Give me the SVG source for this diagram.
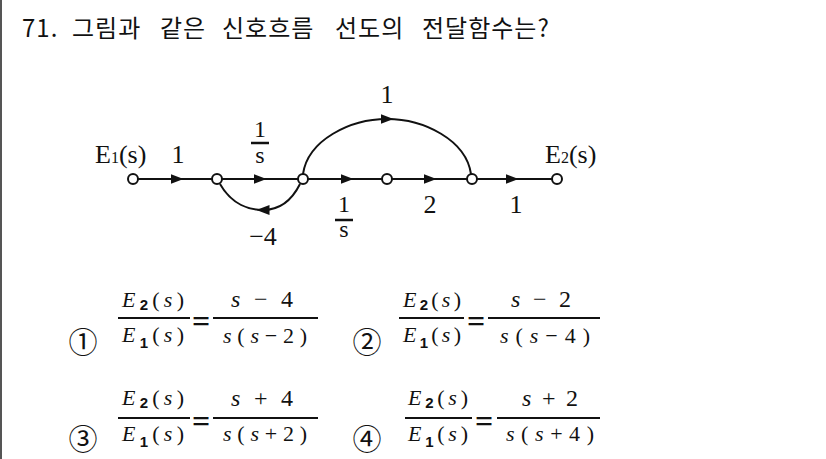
<svg xmlns="http://www.w3.org/2000/svg" width="826" height="459" viewBox="0 0 826 459">
<style>
.title{font-family:"Noto Sans CJK KR","Noto Sans",sans-serif;font-size:24px;fill:#111;letter-spacing:1px}
.lbl{font-family:"Liberation Serif","Times New Roman",serif;font-size:26px;fill:#111}
.frac{font-family:"Liberation Serif","Times New Roman",serif;font-size:24px;fill:#111}
.node{fill:#fff;stroke:#111;stroke-width:2}
.edge{fill:none;stroke:#111;stroke-width:2}
.bar{stroke:#111;stroke-width:2}
.bar2{stroke:#111;stroke-width:2.5}
.m{font-family:"Liberation Serif","Times New Roman",serif;font-size:22px;fill:#111}
.r{font-family:"Liberation Serif","Times New Roman",serif;font-size:24px;fill:#111}
.mi{font-style:italic}
.sub{font-family:"Liberation Sans",Arial,sans-serif;font-weight:bold;font-size:15px}
.circ{font-family:"Noto Sans CJK KR","DejaVu Sans",sans-serif;font-size:29px;fill:#111}
.eq{font-family:"Liberation Serif","Times New Roman",serif;font-size:32px;font-weight:bold;fill:#111}
</style>
<defs>
<marker id="arr" viewBox="0 0 13 10" refX="6.5" refY="5" markerWidth="13" markerHeight="10" markerUnits="userSpaceOnUse" orient="auto">
<path d="M0,0 L13,5 L0,10 z" fill="#111"/>
</marker>
</defs>
<rect x="0" y="0" width="826" height="459" fill="#fff"/>
<line x1="1" y1="0" x2="1" y2="459" stroke="#555" stroke-width="2"/>

<text class="title" y="37"><tspan x="22">71.</tspan><tspan x="72">그림과</tspan><tspan x="160">같은</tspan><tspan x="222">신호흐름</tspan><tspan x="335">선도의</tspan><tspan x="422">전달함수는?</tspan></text>

<g id="connectors">
<path class="edge" d="M133,179 L177,179 L217,179" marker-mid="url(#arr)"/>
<path class="edge" d="M217,179 L260,179 L303,179" marker-mid="url(#arr)"/>
<path class="edge" d="M303,179 L347,179 L387,179" marker-mid="url(#arr)"/>
<path class="edge" d="M387,179 L430,179 L472,179" marker-mid="url(#arr)"/>
<path class="edge" d="M472,179 L512,179 L557,179" marker-mid="url(#arr)"/>
<path class="edge" d="M303,174 C308,140 350,119 387,119 C424,119 466,140 471,174" marker-mid="url(#arr)"/>
<path class="edge" d="M300,184 C292,200 280,210 263,210 C250,210 232,205 220,184" marker-mid="url(#arr)"/>
<text class="lbl" x="178" y="163" text-anchor="middle">1</text>
<text class="frac" x="260" y="137" text-anchor="middle">1</text>
<line class="bar2" x1="251" y1="143" x2="269" y2="143"/>
<text class="frac" x="260" y="163" text-anchor="middle">s</text>
<text class="lbl" x="387" y="103" text-anchor="middle">1</text>
<text class="lbl" x="263" y="245" text-anchor="middle">−4</text>
<text class="frac" x="344" y="212" text-anchor="middle">1</text>
<line class="bar2" x1="335" y1="220" x2="353" y2="220"/>
<text class="frac" x="344" y="237" text-anchor="middle">s</text>
<text class="lbl" x="430" y="213" text-anchor="middle">2</text>
<text class="lbl" x="516" y="213" text-anchor="middle">1</text>
</g>

<g id="n1"><circle class="node" cx="133" cy="179" r="5"/><text class="lbl" x="95" y="163">E<tspan font-size="16">1</tspan>(s)</text></g>
<g id="n2"><circle class="node" cx="217" cy="179" r="5"/></g>
<g id="n3"><circle class="node" cx="303" cy="179" r="5"/></g>
<g id="n4"><circle class="node" cx="387" cy="179" r="5"/></g>
<g id="n5"><circle class="node" cx="472" cy="179" r="5"/></g>
<g id="n6"><circle class="node" cx="557" cy="179" r="5"/><text class="lbl" x="545" y="163">E<tspan font-size="16">2</tspan>(s)</text></g>

<g id="opt1">
<text class="circ" x="83" y="353" text-anchor="middle">①</text>
<text class="m" x="122" y="307" textLength="62" lengthAdjust="spacing"><tspan class="mi">E</tspan><tspan class="sub" dy="3">2</tspan><tspan dy="-3">(</tspan><tspan class="mi">s</tspan>)</text>
<line class="bar" x1="118" y1="318" x2="190" y2="318"/>
<text class="m" x="122" y="342" textLength="62" lengthAdjust="spacing"><tspan class="mi">E</tspan><tspan class="sub" dy="6">1</tspan><tspan dy="-6">(</tspan><tspan class="mi">s</tspan>)</text>
<text class="eq" x="201" y="332" text-anchor="middle">=</text>
<line class="bar" x1="213" y1="318" x2="318" y2="318"/>
<text class="r" x="231" y="307" textLength="62" lengthAdjust="spacing"><tspan class="mi">s</tspan> − 4</text>
<text class="m" x="223" y="343" textLength="84" lengthAdjust="spacing"><tspan class="mi">s</tspan>(<tspan class="mi">s</tspan>−2)</text>
</g>

<g id="opt2">
<text class="circ" x="367" y="353" text-anchor="middle">②</text>
<text class="m" x="403" y="307" textLength="58" lengthAdjust="spacing"><tspan class="mi">E</tspan><tspan class="sub" dy="3">2</tspan><tspan dy="-3">(</tspan><tspan class="mi">s</tspan>)</text>
<line class="bar" x1="399" y1="318" x2="464" y2="318"/>
<text class="m" x="403" y="342" textLength="58" lengthAdjust="spacing"><tspan class="mi">E</tspan><tspan class="sub" dy="6">1</tspan><tspan dy="-6">(</tspan><tspan class="mi">s</tspan>)</text>
<text class="eq" x="476" y="332" text-anchor="middle">=</text>
<line class="bar" x1="488" y1="318" x2="600" y2="318"/>
<text class="r" x="511" y="307" textLength="60" lengthAdjust="spacing"><tspan class="mi">s</tspan> − 2</text>
<text class="m" x="500" y="343" textLength="90" lengthAdjust="spacing"><tspan class="mi">s</tspan>(<tspan class="mi">s</tspan>−4)</text>
</g>

<g id="opt3">
<text class="circ" x="83" y="450" text-anchor="middle">③</text>
<text class="m" x="122" y="405" textLength="62" lengthAdjust="spacing"><tspan class="mi">E</tspan><tspan class="sub" dy="3">2</tspan><tspan dy="-3">(</tspan><tspan class="mi">s</tspan>)</text>
<line class="bar" x1="118" y1="418" x2="190" y2="418"/>
<text class="m" x="122" y="441" textLength="62" lengthAdjust="spacing"><tspan class="mi">E</tspan><tspan class="sub" dy="6">1</tspan><tspan dy="-6">(</tspan><tspan class="mi">s</tspan>)</text>
<text class="eq" x="201" y="432" text-anchor="middle">=</text>
<line class="bar" x1="213" y1="418" x2="318" y2="418"/>
<text class="r" x="231" y="406" textLength="62" lengthAdjust="spacing"><tspan class="mi">s</tspan> + 4</text>
<text class="m" x="223" y="441" textLength="84" lengthAdjust="spacing"><tspan class="mi">s</tspan>(<tspan class="mi">s</tspan>+2)</text>
</g>

<g id="opt4">
<text class="circ" x="367" y="450" text-anchor="middle">④</text>
<text class="m" x="408" y="405" textLength="60" lengthAdjust="spacing"><tspan class="mi">E</tspan><tspan class="sub" dy="3">2</tspan><tspan dy="-3">(</tspan><tspan class="mi">s</tspan>)</text>
<line class="bar" x1="405" y1="418" x2="472" y2="418"/>
<text class="m" x="408" y="441" textLength="60" lengthAdjust="spacing"><tspan class="mi">E</tspan><tspan class="sub" dy="6">1</tspan><tspan dy="-6">(</tspan><tspan class="mi">s</tspan>)</text>
<text class="eq" x="484" y="432" text-anchor="middle">=</text>
<line class="bar" x1="497" y1="418" x2="600" y2="418"/>
<text class="r" x="522" y="406" textLength="56" lengthAdjust="spacing"><tspan class="mi">s</tspan> + 2</text>
<text class="m" x="506" y="441" textLength="88" lengthAdjust="spacing"><tspan class="mi">s</tspan>(<tspan class="mi">s</tspan>+4)</text>
</g>
</svg>
